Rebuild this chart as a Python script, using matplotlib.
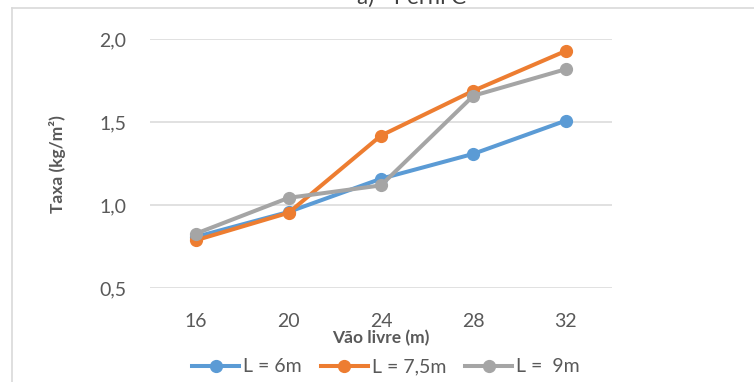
import matplotlib.pyplot as plt
from matplotlib.lines import Line2D

plt.rcParams['font.family'] = ['Lato', 'DejaVu Sans']

vaos = ['16', '20', '24', '28', '32']
taxa_6 = [0.81, 0.96, 1.16, 1.31, 1.51]
taxa_75 = [0.79, 0.955, 1.42, 1.69, 1.93]
taxa_9 = [0.83, 1.045, 1.12, 1.66, 1.82]
series_names = ['L = 6m', 'L = 7,5m', 'L =  9m']
colors = ['#5B9BD5', '#ED7D31', '#A5A5A5']

fig = plt.figure(figsize=(7.54, 3.82), dpi=100)
ax = fig.add_axes([150 / 754, 93.7 / 382, 462 / 754, 249 / 382])

x = list(range(len(vaos)))
for vals, c in zip([taxa_6, taxa_75, taxa_9], colors):
    ax.plot(x, vals, color=c, lw=2.9, marker='o', ms=8.5, solid_capstyle='round')

ax.set_xlim(-0.5, len(vaos) - 0.5)
ax.set_ylim(0.5, 2.0)
ax.set_yticks([0.5, 1.0, 1.5, 2.0])
ax.set_yticklabels(['0,5', '1,0', '1,5', '2,0'])
ax.set_xticks(x)
ax.set_xticklabels(vaos)
ax.tick_params(length=0, labelsize=14, labelcolor='#595959')
ax.tick_params(axis='y', pad=17)
ax.tick_params(axis='x', pad=18)
ax.grid(axis='y', color='#d9d9d9', lw=1.1)
ax.set_axisbelow(True)
for s in ax.spines.values():
    s.set_visible(False)

ax.set_xlabel('Vão livre (m)', fontsize=12.5, fontweight='bold', color='#595959', labelpad=0)
ax.set_ylabel('Taxa (kg/m²)', fontsize=12.5, fontweight='bold', color='#595959', labelpad=24)

handles = [Line2D([], [], color=c, lw=2.9, marker='o', ms=8.5) for c in colors]
fig.legend(handles, series_names, loc='center', bbox_to_anchor=(386 / 754, 1 - 367 / 382),
           ncol=3, frameon=False, fontsize=14, labelcolor='#595959',
           handlelength=2.4, handletextpad=0.2, columnspacing=1.0)

# chart frame and clipped title
fig.add_artist(Line2D([12 / 754, 12 / 754], [0, 1 - 8 / 382], transform=fig.transFigure,
                      color='#d9d9d9', lw=1.2))
fig.add_artist(Line2D([12 / 754, 1], [1 - 8 / 382, 1 - 8 / 382], transform=fig.transFigure,
                      color='#d9d9d9', lw=1.2))
fig.text(412 / 754, 1 - 4 / 382, 'a) - Perfil C', ha='center', va='baseline',
         fontsize=16, color='#404040')

fig.savefig('out.png', dpi=100)
